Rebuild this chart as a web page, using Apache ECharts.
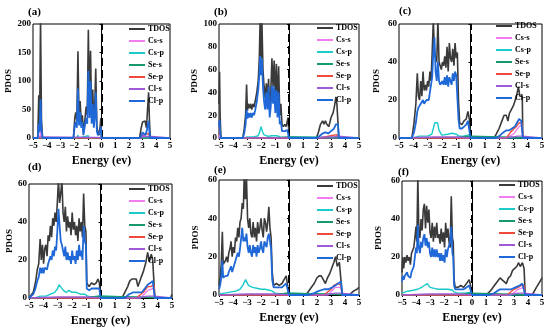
<!DOCTYPE html>
<html><head><meta charset="utf-8">
<script src="https://cdn.jsdelivr.net/npm/echarts@6/dist/echarts.min.js"></script>
<style>html,body{margin:0;padding:0;background:#fff}#c{width:550px;height:328px}</style>
</head><body><div id="c"></div>
<script>
const seriesNames = ['TDOS','Cs-s','Cs-p','Se-s','Se-p','Cl-s','Cl-p'];
const seriesColors = ['#3a3a3a','#f07ef0','#1ccaca','#17996a','#ef4a3a','#a05ad8','#1f68d8'];
const panelLabels = ['(a)','(b)','(c)','(d)','(e)','(f)'];
const yMaxes = [200,100,60,60,60,60];
const yIntervals = [50,20,20,20,20,20];
const xTicks = [-5,-4,-3,-2,-1,0,1,2,3,4,5];

// ---- panel (a)
const a_TDOS = [[-5,0],[-4.65,0],[-4.58,75],[-4.52,20],[-4.45,210],[-4.38,30],[-4.3,0],[-2.05,0],[-1.95,35],[-1.88,45],[-1.8,30],[-1.72,152],[-1.64,35],[-1.56,65],[-1.48,28],[-1.4,40],[-1.32,10],[-1.22,30],[-1.12,55],[-1.04,40],[-0.96,190],[-0.88,55],[-0.8,153],[-0.72,35],[-0.64,85],[-0.56,25],[-0.5,50],[-0.42,122],[-0.34,20],[-0.26,10],[-0.18,5],[-0.1,20],[-0.05,35],[0,0],[2.78,0],[2.9,18],[3.0,28],[3.1,25],[3.18,30],[3.28,18],[3.36,50],[3.44,80],[3.5,30],[3.56,0],[5,0]];
const a_CsS = [[-5,0],[-4.5,0],[-4.45,20],[-4.4,0],[5,0]];
const a_CsP = [[-5,0],[-4.5,0],[-4.45,3],[-4.4,0],[-1.8,0],[-1.72,5],[-1.64,0],[-0.96,4],[-0.9,0],[5,0]];
const a_SeS = [[-5,0],[-0.1,0],[-0.05,2],[0,0],[5,0]];
const a_SeP = [[-5,0],[2.9,0],[3.0,4],[3.44,8],[3.56,0],[5,0]];
const a_ClS = [[-5,0],[-4.45,2],[-4.4,0],[2.9,0],[3.0,6],[3.1,2],[3.44,3],[3.56,0],[5,0]];
const a_ClP = [[-5,0],[-4.65,0],[-4.58,25],[-4.52,10],[-4.45,68],[-4.38,15],[-4.3,0],[-2.05,0],[-1.95,22],[-1.88,28],[-1.8,18],[-1.72,87],[-1.64,22],[-1.56,45],[-1.48,18],[-1.4,28],[-1.32,5],[-1.22,20],[-1.12,35],[-1.04,25],[-0.96,118],[-0.88,35],[-0.8,100],[-0.72,25],[-0.64,60],[-0.56,18],[-0.5,35],[-0.42,80],[-0.34,12],[-0.26,5],[-0.18,3],[-0.1,12],[-0.05,20],[0,0],[2.8,0],[2.9,5],[3.0,10],[3.1,8],[3.2,5],[3.3,12],[3.44,30],[3.5,10],[3.56,0],[5,0]];

// ---- panel (b)
const b_TDOS = [[-5,30],[-4.96,58],[-4.92,20],[-4.86,0],[-3.3,0],[-3.2,8],[-3.1,20],[-3.03,47],[-2.97,24],[-2.9,30],[-2.82,26],[-2.74,30],[-2.66,25],[-2.58,30],[-2.5,27],[-2.42,32],[-2.3,40],[-2.2,50],[-2.12,70],[-2.06,105],[-2.0,70],[-1.94,105],[-1.86,60],[-1.78,45],[-1.7,35],[-1.62,48],[-1.54,33],[-1.46,52],[-1.38,25],[-1.3,40],[-1.22,70],[-1.14,45],[-1.06,68],[-0.98,35],[-0.9,65],[-0.82,28],[-0.74,63],[-0.66,20],[-0.58,30],[-0.5,12],[-0.4,10],[-0.3,12],[-0.2,10],[-0.12,15],[-0.06,18],[0,0],[1.95,0],[2.1,5],[2.25,12],[2.4,15],[2.5,12],[2.6,15],[2.7,12],[2.85,10],[3.0,18],[3.15,22],[3.25,28],[3.35,36],[3.42,30],[3.5,30],[3.56,0],[5,0]];
const b_CsS = [[-5,0],[-4.96,3],[-4.9,0],[5,0]];
const b_CsP = [[-5,0],[-3.2,0],[-3.0,1],[-2.5,1],[-2.2,2],[-2.1,5],[-2.0,10],[-1.9,6],[-1.8,3],[-1.5,1.5],[-1.2,2],[-0.9,2],[-0.6,1],[-0.3,0.5],[0,1],[0.05,0],[5,0]];
const b_SeS = [[-5,0],[-0.5,0.5],[0,1],[0.05,0],[5,0]];
const b_SeP = [[-5,8],[-4.95,10],[-4.9,3],[-4.85,0],[2.2,0],[3.0,2],[3.4,3],[3.56,0],[5,0]];
const b_ClS = [[-5,0],[2.2,0],[2.6,1],[3.2,1],[3.5,1.5],[3.56,0],[5,0]];
const b_ClP = [[-5,10],[-4.96,16],[-4.92,6],[-4.86,0],[-3.3,0],[-3.2,4],[-3.1,12],[-3.03,25],[-2.97,17],[-2.9,22],[-2.82,18],[-2.74,22],[-2.66,18],[-2.58,22],[-2.5,20],[-2.42,24],[-2.3,32],[-2.2,42],[-2.12,55],[-2.06,72],[-2.0,55],[-1.94,70],[-1.86,45],[-1.78,32],[-1.7,25],[-1.62,40],[-1.54,25],[-1.46,45],[-1.38,18],[-1.3,28],[-1.22,46],[-1.14,30],[-1.06,45],[-0.98,22],[-0.9,42],[-0.82,18],[-0.74,40],[-0.66,12],[-0.58,15],[-0.5,6],[-0.4,5],[-0.3,6],[-0.2,5],[-0.12,7],[-0.06,8],[0,0],[2.0,0],[2.2,2],[2.4,4],[2.6,5],[2.8,4],[3.0,6],[3.2,8],[3.35,12],[3.5,12],[3.56,0],[5,0]];

// ---- panel (c)
const c_TDOS = [[-5,0],[-4.1,0],[-3.95,8],[-3.82,18],[-3.72,34],[-3.64,22],[-3.56,20],[-3.48,30],[-3.4,22],[-3.32,35],[-3.24,25],[-3.16,28],[-3.08,25],[-3.0,30],[-2.92,27],[-2.84,35],[-2.76,30],[-2.68,45],[-2.6,62],[-2.52,45],[-2.44,42],[-2.36,40],[-2.28,62],[-2.2,40],[-2.12,38],[-2.04,36],[-1.96,40],[-1.88,38],[-1.8,43],[-1.72,37],[-1.64,48],[-1.56,35],[-1.48,50],[-1.4,42],[-1.32,40],[-1.24,47],[-1.16,38],[-1.08,50],[-1.0,42],[-0.92,45],[-0.84,20],[-0.76,8],[-0.6,7],[-0.45,9],[-0.3,10],[-0.18,14],[-0.08,10],[0,0],[1.65,0],[1.8,2],[2.0,5],[2.2,9],[2.35,12],[2.5,12],[2.62,9],[2.72,13],[2.85,12],[3.0,17],[3.12,16],[3.22,22],[3.35,27],[3.45,22],[3.55,23],[3.62,22],[3.66,0],[5,0]];
const c_CsS = [[-5,0],[2.5,0],[3.0,2],[3.4,6],[3.6,7],[3.66,0],[5,0]];
const c_CsP = [[-5,0],[-4.0,0],[-3.6,1],[-3.0,1],[-2.7,2],[-2.6,5],[-2.5,8],[-2.4,9],[-2.3,8],[-2.2,4],[-2.0,1.5],[-1.6,2],[-1.3,2.5],[-1.0,2],[-0.8,1],[-0.5,1],[-0.2,1.5],[0,2],[0.05,0],[5,0]];
const c_SeS = [[-5,0],[-1,0.3],[-0.3,0.8],[0,1],[0.05,0],[5,0]];
const c_SeP = [[-5,0],[2.5,0],[2.8,3],[3.2,6],[3.4,8],[3.6,8],[3.66,0],[5,0]];
const c_ClS = [[-5,0],[-2.5,0.5],[-1,0.5],[0,0],[2.5,0],[3.3,1],[3.6,1],[3.66,0],[5,0]];
const c_ClP = [[-5,0],[-4.1,0],[-3.95,3],[-3.82,8],[-3.72,14],[-3.64,16],[-3.56,15],[-3.48,18],[-3.4,17],[-3.32,20],[-3.24,18],[-3.16,19],[-3.08,20],[-3.0,21],[-2.92,20],[-2.84,24],[-2.76,24],[-2.68,32],[-2.6,45],[-2.52,53],[-2.44,35],[-2.36,30],[-2.28,40],[-2.2,30],[-2.12,28],[-2.04,27],[-1.96,30],[-1.88,28],[-1.8,32],[-1.72,28],[-1.64,33],[-1.56,27],[-1.48,32],[-1.4,30],[-1.32,28],[-1.24,34],[-1.16,30],[-1.08,35],[-1.0,33],[-0.92,34],[-0.84,10],[-0.76,5],[-0.6,5],[-0.45,6],[-0.3,7],[-0.18,9],[-0.08,8],[0,0],[1.8,0],[2.0,1],[2.3,3],[2.5,4],[2.7,4],[2.9,5],[3.1,6],[3.25,8],[3.4,10],[3.55,9],[3.62,9],[3.66,0],[5,0]];

// ---- panel (d)
const d_TDOS = [[-5,0],[-4.9,0],[-4.7,3],[-4.55,8],[-4.42,15],[-4.32,18],[-4.22,31],[-4.14,20],[-4.06,28],[-3.98,18],[-3.9,26],[-3.82,28],[-3.74,22],[-3.66,33],[-3.58,30],[-3.5,38],[-3.42,32],[-3.34,42],[-3.26,38],[-3.18,45],[-3.1,40],[-3.02,50],[-2.94,62],[-2.86,50],[-2.78,55],[-2.7,62],[-2.62,45],[-2.54,40],[-2.46,48],[-2.38,35],[-2.3,43],[-2.22,37],[-2.14,40],[-2.06,33],[-1.98,45],[-1.9,36],[-1.82,40],[-1.74,33],[-1.66,38],[-1.58,30],[-1.5,42],[-1.42,35],[-1.34,40],[-1.26,32],[-1.18,55],[-1.1,38],[-1.02,35],[-0.96,8],[-0.8,6],[-0.62,8],[-0.45,7],[-0.3,8],[-0.18,10],[-0.08,8],[0,0],[1.5,0],[1.7,3],[1.9,6],[2.05,9],[2.2,10],[2.35,10],[2.5,10],[2.62,6],[2.72,5],[2.85,11],[3.0,14],[3.15,18],[3.3,24],[3.42,19],[3.55,23],[3.65,20],[3.75,20],[3.8,0],[4.9,0],[5,2]];
const d_CsS = [[-5,0],[2.8,0],[3.3,4],[3.7,5],[3.8,0],[5,0]];
const d_CsP = [[-5,0],[-4.6,0],[-4.2,1],[-3.8,1],[-3.5,2],[-3.2,3],[-3.0,5],[-2.9,7],[-2.8,6],[-2.6,4],[-2.4,3],[-2.2,4],[-2.0,3],[-1.7,3],[-1.4,2],[-1.1,2],[-0.9,1],[-0.5,0.5],[-0.1,1],[0,0],[5,0]];
const d_SeS = [[-5,0],[-1,0.3],[-0.3,0.8],[0,1],[0.05,0],[5,0]];
const d_SeP = [[-5,0],[2.5,0],[3.0,3],[3.3,6],[3.5,6],[3.75,7],[3.8,0],[5,0]];
const d_ClS = [[-5,0],[-3,0.5],[-1,0.5],[0,0],[2.5,0],[3.3,1],[3.75,1],[3.8,0],[5,0]];
const d_ClP = [[-5,0],[-4.9,0],[-4.7,2],[-4.55,5],[-4.42,9],[-4.32,11],[-4.22,16],[-4.14,13],[-4.06,16],[-3.98,13],[-3.9,16],[-3.82,17],[-3.74,15],[-3.66,18],[-3.58,17],[-3.5,22],[-3.42,20],[-3.34,25],[-3.26,22],[-3.18,27],[-3.1,25],[-3.02,35],[-2.94,47],[-2.86,38],[-2.78,30],[-2.7,28],[-2.62,25],[-2.54,22],[-2.46,27],[-2.38,20],[-2.3,24],[-2.22,20],[-2.14,22],[-2.06,18],[-1.98,25],[-1.9,20],[-1.82,22],[-1.74,18],[-1.66,25],[-1.58,20],[-1.5,28],[-1.42,22],[-1.34,25],[-1.26,20],[-1.18,38],[-1.1,30],[-1.02,28],[-0.96,5],[-0.8,4],[-0.62,5],[-0.45,5],[-0.3,5],[-0.18,6],[-0.08,5],[0,0],[1.7,0],[2.0,2],[2.3,3],[2.6,3],[2.9,3],[3.1,5],[3.3,7],[3.5,8],[3.65,9],[3.75,9],[3.8,0],[5,0]];

// ---- panel (e)
const e_TDOS = [[-5,5],[-4.92,9],[-4.84,16],[-4.76,33],[-4.7,16],[-4.62,15],[-4.54,18],[-4.46,20],[-4.38,17],[-4.3,22],[-4.22,24],[-4.14,28],[-4.06,20],[-3.98,25],[-3.9,22],[-3.82,30],[-3.74,28],[-3.66,35],[-3.58,30],[-3.5,38],[-3.42,40],[-3.34,48],[-3.26,45],[-3.2,62],[-3.12,50],[-3.04,62],[-2.96,40],[-2.88,35],[-2.8,40],[-2.72,32],[-2.64,30],[-2.56,38],[-2.48,30],[-2.4,35],[-2.32,28],[-2.24,38],[-2.16,32],[-2.08,35],[-2.0,40],[-1.92,34],[-1.84,30],[-1.76,40],[-1.68,38],[-1.6,33],[-1.52,38],[-1.44,46],[-1.36,35],[-1.28,30],[-1.2,12],[-1.1,5],[-0.9,6],[-0.7,5],[-0.5,6],[-0.35,8],[-0.2,10],[-0.1,10],[0,0],[1.2,0],[1.4,2],[1.6,4],[1.8,6],[2.0,9],[2.15,10],[2.3,10],[2.45,8],[2.6,6],[2.75,9],[2.9,11],[3.05,14],[3.2,17],[3.32,20],[3.45,15],[3.6,17],[3.72,17],[3.8,0],[4.3,0],[4.6,2],[4.85,3],[5,4]];
const e_CsS = [[-5,0],[2.8,0],[3.3,4],[3.7,4],[3.8,0],[5,0]];
const e_CsP = [[-5,0.5],[-4.6,1],[-4.2,1.5],[-3.8,2],[-3.5,3],[-3.3,5],[-3.1,8],[-3.0,7],[-2.9,5],[-2.6,4],[-2.3,3.5],[-2.0,3],[-1.7,3],[-1.4,2.5],[-1.2,2],[-1.0,1],[-0.5,0.5],[-0.1,1],[0,0],[5,0]];
const e_SeS = [[-5,0],[-1,0.3],[-0.3,0.8],[0,1],[0.05,0],[5,0]];
const e_SeP = [[-5,0],[2.5,0],[3.0,3],[3.2,5],[3.5,6],[3.72,5],[3.8,0],[5,0]];
const e_ClS = [[-5,0],[-3,0.5],[-1,0.5],[0,0],[2.5,0],[3.3,1],[3.72,1],[3.8,0],[5,0]];
const e_ClP = [[-5,3],[-4.92,5],[-4.84,9],[-4.76,18],[-4.7,9],[-4.62,8],[-4.54,10],[-4.46,11],[-4.38,10],[-4.3,12],[-4.22,13],[-4.14,15],[-4.06,12],[-3.98,14],[-3.9,13],[-3.82,18],[-3.74,18],[-3.66,22],[-3.58,20],[-3.5,24],[-3.42,25],[-3.34,35],[-3.26,28],[-3.2,30],[-3.12,28],[-3.04,32],[-2.96,25],[-2.88,22],[-2.8,26],[-2.72,22],[-2.64,20],[-2.56,26],[-2.48,22],[-2.4,25],[-2.32,20],[-2.24,26],[-2.16,22],[-2.08,24],[-2.0,28],[-1.92,24],[-1.84,22],[-1.76,28],[-1.68,27],[-1.6,25],[-1.52,30],[-1.44,32],[-1.36,28],[-1.28,24],[-1.2,8],[-1.1,4],[-0.9,4],[-0.7,4],[-0.5,4],[-0.35,5],[-0.2,6],[-0.1,6],[0,0],[1.4,0],[1.8,1],[2.1,2],[2.5,3],[2.8,3],[3.1,4],[3.3,5],[3.5,6],[3.72,7],[3.8,0],[5,0]];

// ---- panel (f)
const f_TDOS = [[-5,12],[-4.94,20],[-4.88,14],[-4.8,20],[-4.72,17],[-4.64,21],[-4.56,18],[-4.48,20],[-4.4,16],[-4.32,22],[-4.24,21],[-4.16,25],[-4.08,30],[-4.0,36],[-3.94,28],[-3.87,62],[-3.8,35],[-3.72,30],[-3.64,40],[-3.56,34],[-3.48,45],[-3.4,48],[-3.32,35],[-3.24,47],[-3.16,38],[-3.08,45],[-3.0,33],[-2.92,30],[-2.84,38],[-2.76,28],[-2.68,36],[-2.6,30],[-2.52,38],[-2.44,30],[-2.36,32],[-2.28,27],[-2.2,35],[-2.12,28],[-2.04,33],[-1.96,25],[-1.88,38],[-1.8,30],[-1.72,35],[-1.64,28],[-1.56,25],[-1.48,52],[-1.4,30],[-1.34,28],[-1.28,8],[-1.2,4],[-1.0,4],[-0.8,5],[-0.6,4],[-0.4,6],[-0.2,8],[-0.1,5],[0,0],[1.0,0],[1.3,2],[1.6,5],[1.8,7],[2.0,9],[2.15,8],[2.3,7],[2.45,6],[2.6,9],[2.75,10],[2.9,13],[3.05,14],[3.2,15],[3.32,17],[3.45,15],[3.6,17],[3.72,14],[3.8,0],[4.3,0],[4.6,4],[4.85,7],[5,9]];
const f_CsS = [[-5,0],[2.8,0],[3.3,3],[3.7,4],[3.8,0],[5,0]];
const f_CsP = [[-5,1],[-4.6,2],[-4.2,2.5],[-3.9,3],[-3.6,4],[-3.4,5],[-3.2,6],[-3.0,4],[-2.7,3.5],[-2.4,3],[-2.0,3],[-1.7,3],[-1.4,2.5],[-1.25,1.5],[-1.0,1],[-0.5,1],[-0.1,1.5],[0,0],[5,0]];
const f_SeS = [[-5,0],[-1,0.3],[-0.3,0.8],[0,1],[0.05,0],[5,0]];
const f_SeP = [[-5,0],[2.5,0],[3.0,3],[3.3,4],[3.5,5],[3.72,5],[3.8,0],[5,0]];
const f_ClS = [[-5,0],[-3,0.5],[-1,0.5],[0,0],[2.5,0],[3.3,1],[3.72,1],[3.8,0],[5,0]];
const f_ClP = [[-5,7],[-4.94,10],[-4.88,8],[-4.8,10],[-4.72,10],[-4.64,12],[-4.56,10],[-4.48,11],[-4.4,9],[-4.32,12],[-4.24,13],[-4.16,15],[-4.08,20],[-4.0,25],[-3.94,22],[-3.87,37],[-3.8,25],[-3.72,22],[-3.64,28],[-3.56,25],[-3.48,30],[-3.4,32],[-3.32,26],[-3.24,30],[-3.16,25],[-3.08,28],[-3.0,22],[-2.92,20],[-2.84,25],[-2.76,20],[-2.68,24],[-2.6,20],[-2.52,24],[-2.44,20],[-2.36,22],[-2.28,18],[-2.2,22],[-2.12,18],[-2.04,21],[-1.96,17],[-1.88,24],[-1.8,20],[-1.72,24],[-1.64,25],[-1.56,28],[-1.48,36],[-1.4,22],[-1.34,20],[-1.28,5],[-1.2,3],[-1.0,3],[-0.8,3],[-0.6,3],[-0.4,4],[-0.2,5],[-0.1,4],[0,0],[1.2,0],[1.6,1],[2.0,3],[2.4,3],[2.8,3],[3.1,4],[3.4,5],[3.6,6],[3.72,6],[3.8,0],[5,0]];

const panelData = [
  [a_TDOS,a_CsS,a_CsP,a_SeS,a_SeP,a_ClS,a_ClP],
  [b_TDOS,b_CsS,b_CsP,b_SeS,b_SeP,b_ClS,b_ClP],
  [c_TDOS,c_CsS,c_CsP,c_SeS,c_SeP,c_ClS,c_ClP],
  [d_TDOS,d_CsS,d_CsP,d_SeS,d_SeP,d_ClS,d_ClP],
  [e_TDOS,e_CsS,e_CsP,e_SeS,e_SeP,e_ClS,e_ClP],
  [f_TDOS,f_CsS,f_CsP,f_SeS,f_SeP,f_ClS,f_ClP]
];

// layout (pixels)
const grids = [
  {left:33, top:24, width:137, height:114},
  {left:219, top:24, width:140, height:114},
  {left:399, top:24, width:143, height:114},
  {left:29, top:184, width:143, height:114},
  {left:219, top:180, width:140, height:115},
  {left:402, top:181, width:140, height:114}
];
const titlePos = [[28,7],[214,7],[399,6],[28,162],[214,165],[398,167]];
const legendPos = [[129,25],[317,24],[496,22],[129,185],[317,182],[499,181]];
const yNameGap = [20,20,18,15,19,19];

const FONT = 'Liberation Serif';
const chart = echarts.init(document.getElementById('c'), null, {renderer:'canvas'});
const fmtMinus = v => String(v).replace('-', '\u2212');

const option = {
  animation:false,
  backgroundColor:'#fff',
  title: panelLabels.map((t,i)=>({text:t, left:titlePos[i][0], top:titlePos[i][1], padding:0,
    textStyle:{fontFamily:FONT, fontWeight:'bold', fontSize:11, color:'#000'}})),
  legend: grids.map((g,i)=>({data:seriesNames, orient:'vertical', left:legendPos[i][0], top:legendPos[i][1],
    icon:'rect', itemWidth:16, itemHeight:2, itemGap:4, padding:0, selectedMode:false,
    textStyle:{fontFamily:FONT, fontWeight:'bold', fontSize:8, color:'#000', padding:[0,0,0,-2]}})),
  grid: grids.map(g=>Object.assign({show:true, borderColor:'#000', borderWidth:1, containLabel:false}, g)),
  xAxis: grids.map((g,i)=>({type:'value', gridIndex:i, min:-5, max:5, interval:1,
    name:'Energy (ev)', nameLocation:'middle', nameGap:17,
    nameTextStyle:{fontFamily:FONT, fontWeight:'bold', fontSize:12, color:'#000'},
    axisLine:{show:true, lineStyle:{color:'#000', width:1}},
    axisTick:{show:true, inside:false, length:2, lineStyle:{color:'#000'}},
    splitLine:{show:false},
    axisLabel:{fontFamily:FONT, fontWeight:'bold', fontSize:9, color:'#000', margin:3, formatter:fmtMinus}})),
  yAxis: grids.map((g,i)=>({type:'value', gridIndex:i, min:0, max:yMaxes[i], interval:yIntervals[i],
    name:'PDOS', nameLocation:'middle', nameGap:yNameGap[i],
    nameTextStyle:{fontFamily:FONT, fontWeight:'bold', fontSize:9, color:'#000'},
    axisLine:{show:true, lineStyle:{color:'#000', width:1}},
    axisTick:{show:true, inside:false, length:2, lineStyle:{color:'#000'}},
    splitLine:{show:false},
    axisLabel:{fontFamily:FONT, fontWeight:'bold', fontSize:9, color:'#000', margin:2}})),
  series: []
};

panelData.forEach((arrs,p)=>{
  arrs.forEach((d,k)=>{
    const s = {type:'line', name:seriesNames[k], xAxisIndex:p, yAxisIndex:p, data:d,
      symbol:'none', color:seriesColors[k],
      lineStyle:{color:seriesColors[k], width:(k===0)?1.6:(k===6?1.8:1.4)},
      z: 2 + k};
    if(k===0){
      s.markLine = {silent:true, symbol:'none', label:{show:false},
        lineStyle:{color:'#000', type:'dashed', dashOffset:0, width:2}, data:[{xAxis:0}]};
    }
    option.series.push(s);
  });
});

chart.setOption(option);
</script>
</body></html>
